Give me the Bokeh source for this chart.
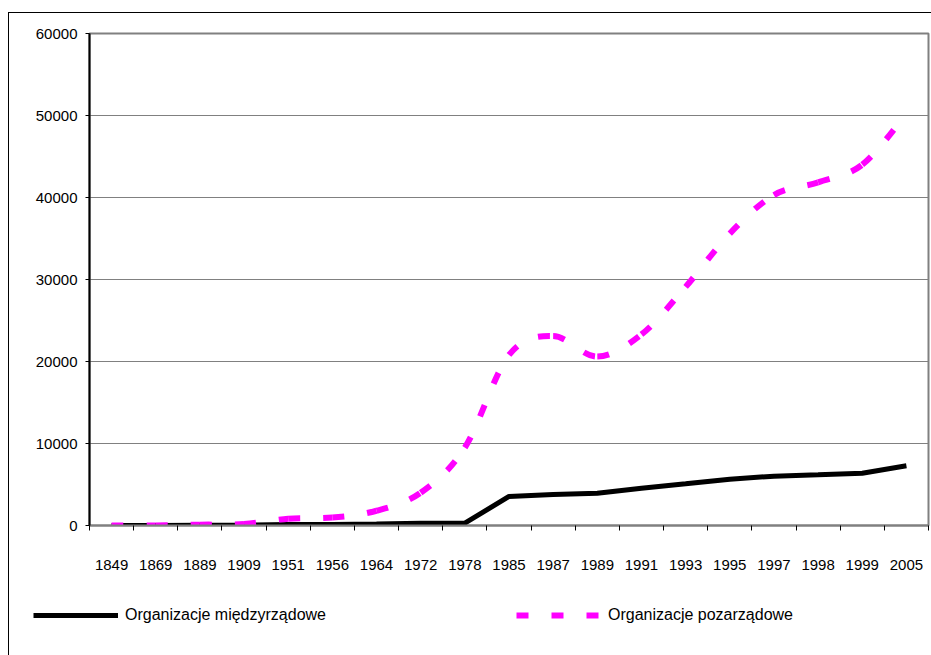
from bokeh.plotting import figure
from bokeh.layouts import column
from bokeh.models import (Range1d, FixedTicker, Legend, LegendItem,
                          ColumnDataSource, NumeralTickFormatter)
from bokeh.embed import file_html
from bokeh.resources import INLINE

# ---- data ----
years = ["1849", "1869", "1889", "1909", "1951", "1956", "1964", "1972", "1978",
         "1985", "1987", "1989", "1991", "1993", "1995", "1997", "1998", "1999", "2005"]
igo = [5, 10, 30, 37, 123, 132, 179, 280, 289,
       3540, 3780, 3940, 4550, 5080, 5650, 6020, 6180, 6380, 7280]
ngo = [5, 10, 100, 176, 832, 973, 1800, 4000, 9500,
       20800, 23100, 20600, 23300, 29100, 35600, 40300, 41850, 44000, 50200]
series_names = ["Organizacje międzyrządowe", "Organizacje pozarządowe"]
y_ticks = [0, 10000, 20000, 30000, 40000, 50000, 60000]

FONT = "Liberation Sans"
IGO_STYLE = dict(line_color="black", line_width=5)
NGO_STYLE = dict(line_color="#FF00FF", line_width=6, line_dash="12 23")

n = len(years)
xc = [i + 0.5 for i in range(n)]

p = figure(width=922, height=572, output_backend="svg", toolbar_location=None,
           x_range=Range1d(0, n), y_range=Range1d(0, 60000),
           min_border_left=80, min_border_right=3, min_border_top=20, min_border_bottom=60)
p.frame_align = False
p.background_fill_color = "white"
p.border_fill_color = "white"
p.outline_line_color = "#808080"
p.outline_line_width = 2

# x axis: labels at category centres, ticks at category boundaries
p.xaxis.ticker = FixedTicker(ticks=xc, minor_ticks=list(range(n + 1)))
p.xaxis.major_label_overrides = {x: y for x, y in zip(xc, years)}
p.xaxis.major_tick_line_color = None
p.xaxis.major_tick_out = 5
p.xaxis.major_tick_in = 0
p.xaxis.minor_tick_line_color = "black"
p.xaxis.minor_tick_out = 5
p.xaxis.minor_tick_in = 0
p.xaxis.axis_line_color = "#808080"
p.xaxis.axis_line_width = 2
p.xaxis.major_label_standoff = 29
p.xaxis.major_label_text_font = FONT
p.xaxis.major_label_text_font_size = "15px"
p.xaxis.major_label_text_color = "black"

# y axis
p.yaxis.ticker = FixedTicker(ticks=y_ticks)
p.yaxis.formatter = NumeralTickFormatter(format="0")
p.yaxis.axis_line_color = "black"
p.yaxis.axis_line_width = 2
p.yaxis.major_tick_line_color = "black"
p.yaxis.major_tick_out = 4
p.yaxis.major_tick_in = 0
p.yaxis.minor_tick_line_color = None
p.yaxis.major_label_standoff = 8
p.yaxis.major_label_text_font = FONT
p.yaxis.major_label_text_font_size = "15px"
p.yaxis.major_label_text_color = "black"

p.xgrid.visible = False
p.ygrid.ticker = FixedTicker(ticks=y_ticks)
p.ygrid.grid_line_color = "#808080"
p.ygrid.grid_line_width = 1

# intergovernmental: straight solid line
p.line(xc, igo, **IGO_STYLE)

# NGOs: smoothed (Catmull-Rom style Bezier through the data points)
seg = dict(x0=[], y0=[], x1=[], y1=[], cx0=[], cy0=[], cx1=[], cy1=[])
for i in range(n - 1):
    xm1, ym1 = (xc[i - 1], ngo[i - 1]) if i > 0 else (xc[i], ngo[i])
    xp2, yp2 = (xc[i + 2], ngo[i + 2]) if i + 2 < n else (xc[i + 1], ngo[i + 1])
    seg["x0"].append(xc[i]); seg["y0"].append(ngo[i])
    seg["x1"].append(xc[i + 1]); seg["y1"].append(ngo[i + 1])
    seg["cx0"].append(xc[i] + (xc[i + 1] - xm1) / 6)
    seg["cy0"].append(ngo[i] + (ngo[i + 1] - ym1) / 6)
    seg["cx1"].append(xc[i + 1] - (xp2 - xc[i]) / 6)
    seg["cy1"].append(ngo[i + 1] - (yp2 - ngo[i]) / 6)
src = ColumnDataSource(seg)
p.bezier(x0="x0", y0="y0", x1="x1", y1="y1", cx0="cx0", cy0="cy0",
         cx1="cx1", cy1="cy1", source=src, **NGO_STYLE)

# ---- legend strip below the chart (its own canvas, so it is not clipped) ----
# the series are drawn here again but lie outside this strip's y range, so only
# the legend keys are visible
lf = figure(width=922, height=70, output_backend="svg", toolbar_location=None,
            x_axis_type=None, y_axis_type=None,
            x_range=Range1d(0, n), y_range=Range1d(-2, -1),
            min_border_left=0, min_border_right=0, min_border_top=0, min_border_bottom=0)
lf.frame_align = False
lf.outline_line_color = None
lf.background_fill_color = "white"
lf.border_fill_color = "white"
k1 = lf.line(xc, igo, **IGO_STYLE)
k2 = lf.line(xc, ngo, **NGO_STYLE)
legend = Legend(items=[LegendItem(label=series_names[0], renderers=[k1]),
                       LegendItem(label=series_names[1], renderers=[k2])],
                orientation="horizontal", location=(24, 30),
                glyph_width=85, glyph_height=20, label_height=20, label_standoff=7,
                spacing=190, padding=0, margin=0, border_line_color=None,
                background_fill_alpha=0, label_text_font=FONT,
                label_text_font_size="16px", label_text_color="black")
lf.add_layout(legend)

layout = column(p, lf, spacing=0, margin=(12, 0, 0, 8),
                styles={"border-top": "1px solid black", "border-left": "1px solid black"})

open("out.html", "w").write(file_html(layout, INLINE))
